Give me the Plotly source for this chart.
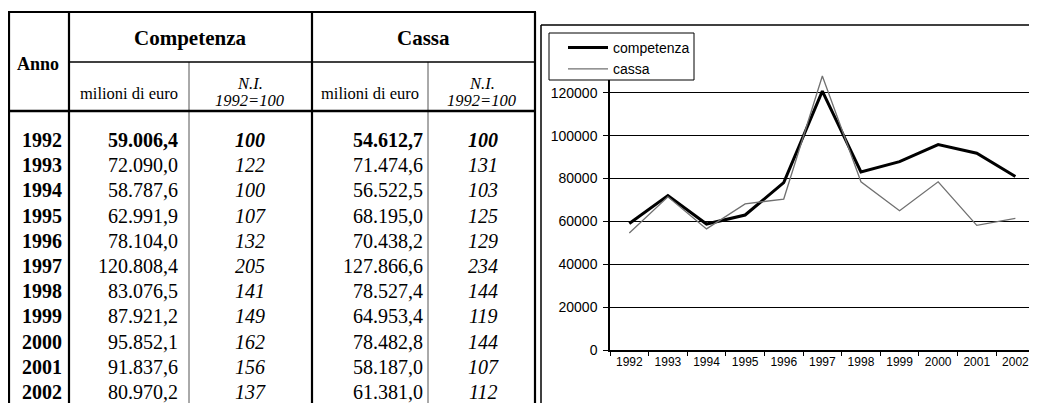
import plotly.graph_objects as go

# The page body has an 8px default margin: the figure fills the rest of the window.
OFF = 8
W, H = 1037 - OFF, 403 - OFF

# ---------------- data ----------------
anni = ["1992", "1993", "1994", "1995", "1996", "1997", "1998", "1999", "2000", "2001", "2002"]
competenza_mln = [59006.4, 72090.0, 58787.6, 62991.9, 78104.0, 120808.4, 83076.5, 87921.2, 95852.1, 91837.6, 80970.2]
competenza_ni = [100, 122, 100, 107, 132, 205, 141, 149, 162, 156, 137]
cassa_mln = [54612.7, 71474.6, 56522.5, 68195.0, 70438.2, 127866.6, 78527.4, 64953.4, 78482.8, 58187.0, 61381.0]
cassa_ni = [100, 131, 103, 125, 129, 234, 144, 119, 144, 107, 112]
y_ticks = [0, 20000, 40000, 60000, 80000, 100000, 120000, 140000]

header_groups = ["Competenza", "Cassa"]
header_sub_val = "milioni di euro"
header_sub_ni = ["N.I.", "1992=100"]
header_anno = "Anno"

SERIF = "Liberation Serif, Times New Roman, serif"
SANS = "Liberation Sans, Arial, sans-serif"


def X(px):
    return (px - OFF) / W


def Y(py):
    return 1 - (py - OFF) / H


def fmt_it(v):
    s = f"{v:,.1f}"
    return s.replace(",", "X").replace(".", ",").replace("X", ".")


fig = go.Figure()

# ---------------- chart ----------------
fig.add_trace(go.Scatter(x=anni, y=competenza_mln, mode="lines", name="competenza",
                         line=dict(color="black", width=3), legendgroup="a"))
fig.add_trace(go.Scatter(x=anni, y=cassa_mln, mode="lines", name="cassa",
                         line=dict(color="#707070", width=1.3), legendgroup="b"))

shapes = []
annotations = []


def line(x0, y0, x1, y1, w=2, c="black"):
    shapes.append(dict(type="line", xref="paper", yref="paper",
                       x0=X(x0), y0=Y(y0), x1=X(x1), y1=Y(y1),
                       line=dict(color=c, width=w)))


def text(x, y, t, size=19, anchor="center", color="black", font=SERIF):
    annotations.append(dict(xref="paper", yref="paper", x=X(x), y=Y(y), text=t,
                            showarrow=False, xanchor=anchor, yanchor="middle",
                            font=dict(family=font, size=size, color=color)))


# table grid
line(9, 12, 9, 403, 2.2)
line(69, 12, 69, 403, 2.2)
line(312, 12, 312, 403, 2.2)
line(535, 12, 535, 403, 2.2)
line(189, 62, 189, 403, 1, "#555")
line(428, 62, 428, 403, 1, "#555")
line(8, 12, 536, 12, 2.2)
line(69, 62, 535, 62, 1.5)
line(8, 111, 536, 111, 2.4)

# chart frame
line(541, 25, 541, 403, 1.5)
line(541, 25, 1037, 25, 1.5)

# legend frame (white box covering grid line / top tick label)
shapes.append(dict(type="rect", xref="paper", yref="paper", layer="above",
                   x0=X(549), y0=Y(80), x1=X(694), y1=Y(33),
                   fillcolor="white", line=dict(color="black", width=1)))

# table header
text(38, 64, "<b>" + header_anno + "</b>", 18)
text(190, 38, "<b>" + header_groups[0] + "</b>", 21)
text(423, 38, "<b>" + header_groups[1] + "</b>", 21)
text(129, 93, header_sub_val, 16.5)
text(370, 93, header_sub_val, 16.5)
for cx in (250, 482):
    text(cx, 83, "<i>" + header_sub_ni[0] + "</i>", 16.5)
    text(cx, 100, "<i>" + header_sub_ni[1] + "</i>", 16.5)

# table body
for i, anno in enumerate(anni):
    yy = 140 + i * 25.2
    b0, b1 = ("<b>", "</b>") if i == 0 else ("", "")
    text(20, yy, "<b>" + anno + "</b>", 20, "left")
    text(180, yy, b0 + fmt_it(competenza_mln[i]) + b1, 20, "right")
    text(250, yy, b0 + "<i>" + str(competenza_ni[i]) + "</i>" + b1, 20)
    text(425, yy, b0 + fmt_it(cassa_mln[i]) + b1, 20, "right")
    text(483, yy, b0 + "<i>" + str(cassa_ni[i]) + "</i>" + b1, 20)

fig.update_layout(
    template="none",
    width=W, height=H,
    margin=dict(l=0, r=0, t=0, b=0, pad=0),
    paper_bgcolor="white", plot_bgcolor="white",
    shapes=shapes, annotations=annotations,
    showlegend=True,
    legend=dict(x=X(563), y=Y(32), xanchor="left", yanchor="top",
                bgcolor="rgba(0,0,0,0)", borderwidth=0,
                font=dict(family=SANS, size=14, color="black"),
                traceorder="grouped", tracegroupgap=0, itemwidth=40),
    xaxis=dict(type="category", domain=[X(610), 1], range=[-0.5, 10.56],
               tickson="boundaries", ticks="outside", ticklen=4, tickcolor="black",
               showline=True, linecolor="black", linewidth=1.5, showgrid=False,
               zeroline=False, automargin=False,
               tickfont=dict(family=SANS, size=12, color="black")),
    yaxis=dict(domain=[Y(350), Y(50)], range=[0, 140000],
               tickvals=y_ticks, ticktext=[str(v) for v in y_ticks],
               ticks="outside", ticklen=5, tickcolor="black",
               showline=True, linecolor="black", linewidth=1.5,
               showgrid=True, gridcolor="black", gridwidth=1, zeroline=False,
               automargin=False, ticklabelstandoff=3,
               tickfont=dict(family=SANS, size=14, color="black")),
)

fig.write_html("out.html")
